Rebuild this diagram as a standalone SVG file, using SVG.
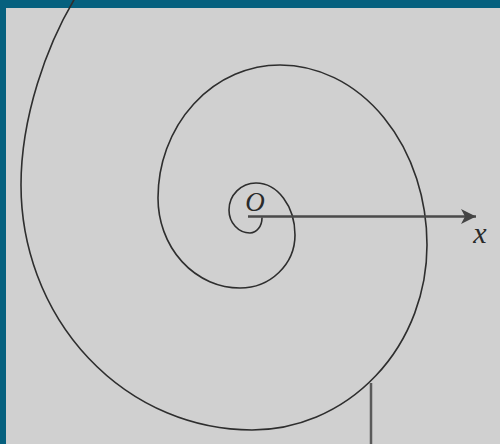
<svg xmlns="http://www.w3.org/2000/svg" width="500" height="444" viewBox="0 0 500 444">
  <style>
    .curve { fill: none; stroke: #2e2e2e; stroke-width: 1.6; stroke-linecap: round; }
    .axis { fill: none; stroke: #4a4a4a; stroke-width: 2.4; }
    .lbl { font-family: "Liberation Serif", "DejaVu Serif", serif; font-style: italic; fill: #2a2a2a; }
  </style>
  <defs>
    <marker id="arrow" markerWidth="18" markerHeight="16" refX="15" refY="8" orient="auto" markerUnits="userSpaceOnUse">
      <path d="M0,0.5 L15,8 L0,15.5 L4,8 Z" fill="#444"/>
    </marker>
  </defs>
  <rect x="0" y="0" width="500" height="444" fill="#05607e"/>
  <rect x="6" y="8" width="494" height="436" fill="#d0d0d0"/>
  <g id="spiral">
    <path class="curve" d="M262,218 A12,15 0 0 1 250,233 A21,23 0 0 1 229,210 A27,27 0 0 1 256,183 A39,52 0 0 1 295,235 A55,53 0 0 1 240,288 A82,90 0 0 1 158,198 A122,133 0 0 1 280,65 A147,180 0 0 1 427,245 A175,185 0 0 1 252,430 A231,245 0 0 1 21,185 C21,120 45,45 80,-10"/>
  </g>
  <g id="connectors">
    <line class="axis" x1="248" y1="216.5" x2="476" y2="216.5" marker-end="url(#arrow)"/>
    <line x1="371" y1="383" x2="371" y2="444" stroke="#5a5a5a" stroke-width="2.5"/>
  </g>
  <g id="label-O">
    <text class="lbl" x="255" y="211" font-size="27" text-anchor="middle">O</text>
  </g>
  <g id="label-x">
    <text class="lbl" x="480" y="243" font-size="30" text-anchor="middle">x</text>
  </g>
</svg>
